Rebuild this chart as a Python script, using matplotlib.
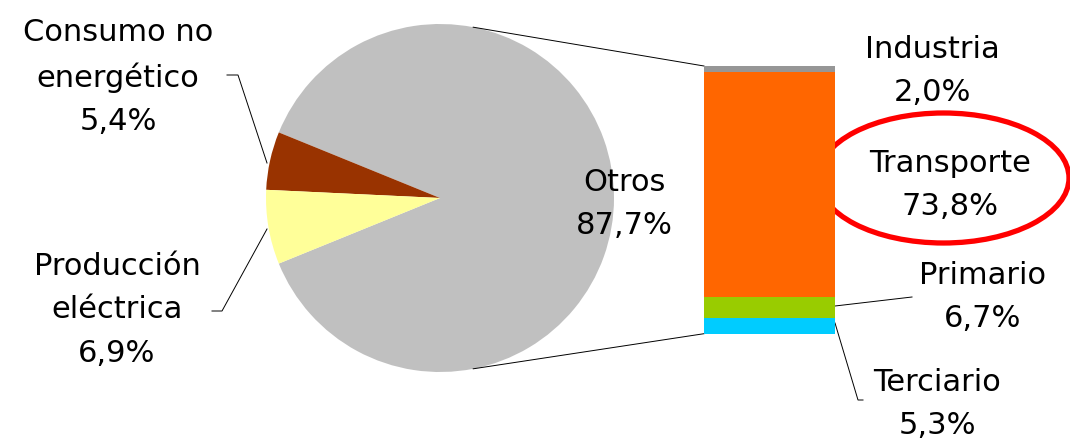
import matplotlib.pyplot as plt
import numpy as np
from matplotlib.patches import Ellipse

# Pie data
pie_names = ['Otros', 'Consumo no\nenergético', 'Producción\neléctrica']
pie_values = [87.7, 5.4, 6.9]
pie_colors = ['#C0C0C0', '#993300', '#FFFF99']

# Bar (breakdown of Otros), bottom to top
bar_names = ['Terciario', 'Primario', 'Transporte', 'Industria']
bar_values = [5.3, 6.7, 73.8, 2.0]
bar_colors = ['#00CCFF', '#99CC00', '#FF6600', '#969696']


def pct(v):
    return f'{v:.1f}'.replace('.', ',') + '%'


W, H = 1070, 440
fig = plt.figure(figsize=(W / 100, H / 100), dpi=100)
ax = fig.add_axes([0, 0, 1, 1])

# pie
cx, cy, r = 440, H - 198, 174
ax.pie(pie_values, colors=pie_colors, startangle=-pie_values[0] / 100 * 180,
       center=(cx, cy), radius=r, counterclock=True,
       wedgeprops=dict(linewidth=0))
ax.set_xlim(0, W)
ax.set_ylim(0, H)
ax.axis('off')

# stacked bar in its own axes
bl, bb, bw, bh = 704, H - 333.7, 131, 267.7
bax = fig.add_axes([bl / W, bb / H, bw / W, bh / H])
bottom = 0
for v, c in zip(bar_values, bar_colors):
    bax.bar(0, v, width=1, bottom=bottom, color=c, linewidth=0)
    bottom += v
bax.set_xlim(-0.5, 0.5)
bax.set_ylim(0, sum(bar_values))
bax.axis('off')

# connector lines pie -> bar
for ang, yb in [(79, bb + bh), (-79, bb)]:
    px = cx + r * np.cos(np.radians(ang))
    py = cy + r * np.sin(np.radians(ang))
    ax.plot([px, bl], [py, yb], color='black', lw=0.7)

# leader lines (image coords -> y flipped)
leaders = [
    [(227, 75), (238, 75), (267, 163)],
    [(212, 311), (222, 311), (267, 229)],
    [(835, 306), (912, 297)],
    [(835, 323), (858, 400), (863, 400)],
]
for pts in leaders:
    xs = [p[0] for p in pts]
    ys = [H - p[1] for p in pts]
    ax.plot(xs, ys, color='black', lw=0.7)

# labels
fs = 22
ls = 1.62
label_pos = {
    'Otros': (624, 204),
    'Consumo no\nenergético': (118, 77),
    'Producción\neléctrica': (117, 310),
}
for name, v in zip(pie_names, pie_values):
    x, y = label_pos[name]
    ax.text(x, H - y, name + '\n' + pct(v), ha='center', va='center',
            fontsize=fs, linespacing=ls)

bar_pos = {
    'Industria': (932, 71),
    'Transporte': (950, 185),
    'Primario': (983, 297),
    'Terciario': (937, 404),
}
for name, v in zip(bar_names, bar_values):
    x, y = bar_pos[name]
    ax.text(x, H - y, name + '\n' + pct(v), ha='center', va='center',
            fontsize=fs, linespacing=ls)

# highlight
ax.add_patch(Ellipse((943.5, H - 178), 251, 130, fill=False,
                     edgecolor='#FF0000', lw=3.8))

fig.savefig('out.png', dpi=100)
